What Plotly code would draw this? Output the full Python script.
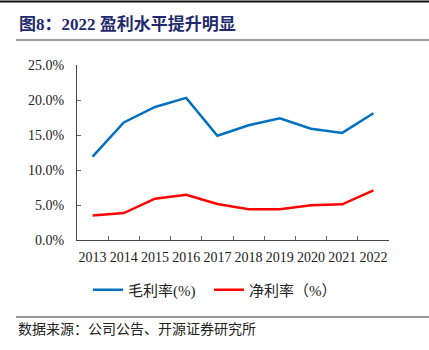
import plotly.graph_objects as go

years = ["2013", "2014", "2015", "2016", "2017", "2018", "2019", "2020", "2021", "2022"]
gross_margin = [11.9, 16.8, 19.0, 20.3, 14.9, 16.4, 17.4, 15.9, 15.3, 18.1]
net_margin = [3.5, 3.85, 5.9, 6.45, 5.15, 4.4, 4.4, 4.95, 5.1, 7.1]
y_ticks = [0, 5, 10, 15, 20, 25]
y_tick_text = ["0.0%", "5.0%", "10.0%", "15.0%", "20.0%", "25.0%"]

L, R, T, B = 77, 40, 65, 110
W, H = 429, 350
PW, PH = W - L - R, H - T - B

def px(x):
    return (x - L) / PW

def py(y):
    return (H - B - y) / PH

serif = "Liberation Serif, Noto Sans CJK SC, serif"

fig = go.Figure()
fig.add_trace(go.Scatter(x=years, y=gross_margin, mode="lines", name="毛利率(%)",
                         line=dict(color="#0070C0", width=2.5)))
fig.add_trace(go.Scatter(x=years, y=net_margin, mode="lines", name="净利率（%）",
                         line=dict(color="#FF0000", width=2.5)))

fig.update_layout(
    width=W, height=H,
    margin=dict(l=L, r=R, t=T, b=B),
    paper_bgcolor="white", plot_bgcolor="white",
    font=dict(family=serif, size=14, color="#222"),
    showlegend=True,
    legend=dict(orientation="h", x=px(88), xanchor="left", y=py(290), yanchor="middle",
                font=dict(family=serif, size=15, color="#222"), itemwidth=30,
                entrywidth=76, entrywidthmode="pixels", tracegroupgap=0),
    xaxis=dict(type="category", showgrid=False, showline=True, linecolor="#444",
               linewidth=1, ticks="inside", ticklen=4, tickcolor="#666",
               tickson="boundaries", range=[-0.5, 9.5], tickangle=0,
               ticklabelstandoff=4,
               tickfont=dict(family=serif, size=14, color="#222")),
    yaxis=dict(range=[0, 25], tickvals=y_ticks, ticktext=y_tick_text, showgrid=False,
               showline=True, linecolor="#444", linewidth=1, ticks="inside", ticklen=4,
               tickcolor="#666", tickfont=dict(family=serif, size=14, color="#222"),
               ticklabelstandoff=9, zeroline=False),
    shapes=[
        dict(type="line", xref="paper", yref="paper", x0=px(0), x1=px(429), y0=py(1.5), y1=py(1.5),
             line=dict(color="#111", width=2)),
        dict(type="line", xref="paper", yref="paper", x0=px(16), x1=px(429), y0=py(40), y1=py(40),
             line=dict(color="#777", width=1.5)),
        dict(type="line", xref="paper", yref="paper", x0=px(16), x1=px(429), y0=py(317), y1=py(317),
             line=dict(color="#777", width=1.5)),
    ],
    annotations=[
        dict(text="<b>图8：2022 盈利水平提升明显</b>", xref="paper", yref="paper",
             x=px(17), y=py(25), xanchor="left", yanchor="middle", showarrow=False,
             font=dict(family=serif, size=17, color="#1F2A6E")),
        dict(text="数据来源：公司公告、开源证券研究所", xref="paper", yref="paper",
             x=px(16), y=py(329), xanchor="left", yanchor="middle", showarrow=False,
             font=dict(family=serif, size=14, color="#222")),
    ],
)

fig.write_html("out.html")
